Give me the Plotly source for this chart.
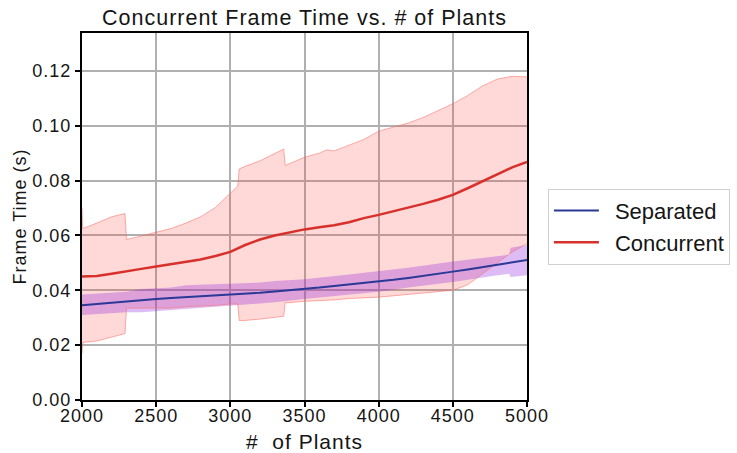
import plotly.graph_objects as go

# ---- data ----
plants = [2000, 2100, 2200, 2300, 2400, 2500, 2600, 2700, 2800, 2900, 3000,
          3100, 3200, 3300, 3400, 3500, 3600, 3700, 3800, 3900, 4000,
          4100, 4200, 4300, 4400, 4500, 4600, 4700, 4800, 4900, 5000]
separated_mean = [0.0345, 0.0350, 0.0354, 0.0358, 0.0363, 0.0368, 0.0372, 0.0375, 0.0378, 0.0380, 0.0383,
                  0.0387, 0.0391, 0.0396, 0.0400, 0.0405, 0.0410, 0.0416, 0.0421, 0.0426, 0.0432,
                  0.0438, 0.0445, 0.0452, 0.0460, 0.0468, 0.0476, 0.0484, 0.0492, 0.0501, 0.0510]
concurrent_mean = [0.0450, 0.0452, 0.0460, 0.0468, 0.0478, 0.0487, 0.0495, 0.0503, 0.0512, 0.0525, 0.0540,
                   0.0565, 0.0585, 0.0600, 0.0612, 0.0622, 0.0630, 0.0637, 0.0648, 0.0663, 0.0675,
                   0.0688, 0.0702, 0.0715, 0.0730, 0.0748, 0.0772, 0.0798, 0.0825, 0.0848, 0.0868]

conc_band_x = [2000, 2005, 2100, 2200, 2290, 2300, 2400, 2500, 2600, 2700, 2800, 2900, 3000, 3050, 3060,
               3100, 3200, 3300, 3360, 3370, 3400, 3500, 3600, 3650, 3700, 3800, 3900, 4000, 4100,
               4200, 4300, 4400, 4500, 4600, 4700, 4800, 4900, 5000]
conc_hi = [0.0700, 0.0625, 0.0645, 0.0668, 0.0680, 0.0585, 0.0598, 0.0612, 0.0625, 0.0645, 0.0668, 0.0702,
           0.0752, 0.0780, 0.0842, 0.0852, 0.0872, 0.0900, 0.0915, 0.0855, 0.0862, 0.0885, 0.0900, 0.0912,
           0.0908, 0.0930, 0.0950, 0.0980, 0.0995, 0.1010, 0.1030, 0.1055, 0.1080, 0.1110, 0.1145, 0.1170,
           0.1180, 0.1178]
conc_lo = [0.0170, 0.0210, 0.0215, 0.0228, 0.0242, 0.0335, 0.0335, 0.0335, 0.0335, 0.0340, 0.0342, 0.0345,
           0.0350, 0.0350, 0.0290, 0.0290, 0.0295, 0.0300, 0.0305, 0.0355, 0.0355, 0.0360, 0.0362, 0.0362,
           0.0365, 0.0370, 0.0372, 0.0375, 0.0380, 0.0385, 0.0390, 0.0395, 0.0400, 0.0420, 0.0460, 0.0500,
           0.0540, 0.0570]

sep_band_x = [2000, 2300, 2400, 2600, 2700, 3000, 3200, 3300, 3500, 3800, 4000, 4200, 4500, 4800, 4880, 4890, 5000]
sep_hi = [0.0385, 0.0395, 0.0405, 0.0410, 0.0418, 0.0425, 0.0428, 0.0434, 0.0440, 0.0458, 0.0470, 0.0482,
          0.0505, 0.0525, 0.0530, 0.0555, 0.0565]
sep_lo = [0.0310, 0.0320, 0.0320, 0.0328, 0.0332, 0.0342, 0.0350, 0.0356, 0.0368, 0.0385, 0.0395, 0.0410,
          0.0430, 0.0455, 0.0460, 0.0448, 0.0455]

x_ticks = [2000, 2500, 3000, 3500, 4000, 4500, 5000]
y_ticks = [0.00, 0.02, 0.04, 0.06, 0.08, 0.10, 0.12]

RED = "#d8302a"
BLUE = "#2a3896"
PINK_FILL = "rgba(255,60,60,0.2)"
PINK_EDGE = "rgba(250,110,100,0.55)"
BLUE_FILL = "rgba(150,45,220,0.32)"
FONT = "Liberation Sans, Arial, sans-serif"
TXT = "#151515"

fig = go.Figure()

# concurrent band
fig.add_trace(go.Scatter(x=conc_band_x, y=conc_hi, mode="lines", line=dict(width=0),
                         showlegend=False, hoverinfo="skip"))
fig.add_trace(go.Scatter(x=conc_band_x, y=conc_lo, mode="lines", line=dict(width=0),
                         fill="tonexty", fillcolor=PINK_FILL, showlegend=False, hoverinfo="skip"))
# separated band
fig.add_trace(go.Scatter(x=sep_band_x, y=sep_hi, mode="lines", line=dict(width=0),
                         showlegend=False, hoverinfo="skip"))
fig.add_trace(go.Scatter(x=sep_band_x, y=sep_lo, mode="lines", line=dict(width=0),
                         fill="tonexty", fillcolor=BLUE_FILL, showlegend=False, hoverinfo="skip"))
# band edges of concurrent
fig.add_trace(go.Scatter(x=conc_band_x, y=conc_hi, mode="lines", line=dict(width=1, color=PINK_EDGE),
                         showlegend=False, hoverinfo="skip"))
fig.add_trace(go.Scatter(x=conc_band_x, y=conc_lo, mode="lines", line=dict(width=1, color=PINK_EDGE),
                         showlegend=False, hoverinfo="skip"))
# means
fig.add_trace(go.Scatter(x=plants, y=separated_mean, mode="lines", name="\u2002Separated",
                         line=dict(color=BLUE, width=2)))
fig.add_trace(go.Scatter(x=plants, y=concurrent_mean, mode="lines", name="\u2002Concurrent",
                         line=dict(color=RED, width=2.5)))

fig.update_layout(
    width=737, height=453,
    margin=dict(l=82, r=210, t=33, b=53, autoexpand=False),
    paper_bgcolor="white", plot_bgcolor="white",
    font=dict(family=FONT, size=19, color=TXT),
    title=dict(text="Concurrent Frame Time vs. # of Plants", x=304.5 / 737, xanchor="center",
               y=1 - 17 / 453, yanchor="middle", font=dict(size=21.5, color=TXT)),
    legend=dict(x=1.047, xanchor="left", y=0.472, yanchor="middle", traceorder="normal",
                bordercolor="#d0d0d0", borderwidth=1, bgcolor="white", itemwidth=45,
                font=dict(size=22, color=TXT)),
    showlegend=True,
)
fig.update_xaxes(range=[2000, 5000], tickvals=x_ticks, ticktext=[str(v) for v in x_ticks],
                 showgrid=True, gridcolor="#b0b0b0", gridwidth=2, automargin=False,
                 showline=True, linecolor="black", linewidth=2, mirror=True,
                 ticks="outside", ticklen=5, tickwidth=1.5, tickcolor="black",
                 tickfont=dict(size=18), zeroline=False, ticklabelstandoff=-7,
                 title=dict(text="#\u00a0\u00a0of Plants", font=dict(size=21), standoff=10))
fig.update_yaxes(range=[0, 0.1338], tickvals=y_ticks, ticktext=[f"{v:.2f}" for v in y_ticks],
                 showgrid=True, gridcolor="#b0b0b0", gridwidth=2, automargin=False,
                 showline=True, linecolor="black", linewidth=2, mirror=True,
                 ticks="outside", ticklen=5, tickwidth=1.5, tickcolor="black",
                 tickfont=dict(size=18), zeroline=False,
                 title=dict(text="Frame Time (s)", font=dict(size=18), standoff=5))

css = ("var s=document.createElement('style');"
       "s.textContent='.main-svg text:not(.legendtext){letter-spacing:1px}';"
       "document.head.appendChild(s);")
fig.write_html("out.html", post_script=css)
